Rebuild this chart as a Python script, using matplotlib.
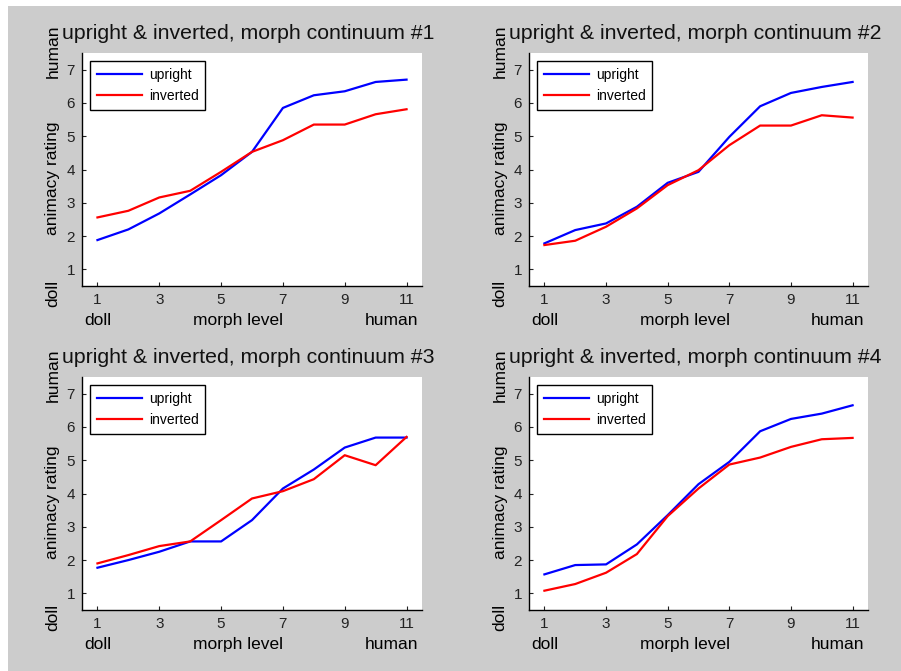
import numpy as np
import matplotlib.pyplot as plt
from matplotlib.patches import Rectangle

plt.rcParams['font.family'] = ['Liberation Sans', 'DejaVu Sans']

morph = [1, 2, 3, 4, 5, 6, 7, 8, 9, 10, 11]
titles = ["upright & inverted, morph continuum #1",
          "upright & inverted, morph continuum #2",
          "upright & inverted, morph continuum #3",
          "upright & inverted, morph continuum #4"]

upright1 = [1.88, 2.2, 2.68, 3.25, 3.83, 4.53, 5.85, 6.23, 6.35, 6.63, 6.7]
inverted1 = [2.56, 2.76, 3.16, 3.36, 3.93, 4.53, 4.88, 5.35, 5.35, 5.66, 5.81]
upright2 = [1.78, 2.18, 2.38, 2.88, 3.6, 3.93, 4.98, 5.9, 6.3, 6.48, 6.63]
inverted2 = [1.73, 1.86, 2.28, 2.83, 3.53, 3.98, 4.73, 5.32, 5.32, 5.63, 5.56]
upright3 = [1.77, 2.0, 2.25, 2.56, 2.56, 3.2, 4.15, 4.72, 5.38, 5.68, 5.68]
inverted3 = [1.9, 2.15, 2.42, 2.56, 3.2, 3.85, 4.07, 4.43, 5.15, 4.85, 5.7]
upright4 = [1.57, 1.85, 1.87, 2.47, 3.35, 4.28, 4.95, 5.87, 6.24, 6.4, 6.65]
inverted4 = [1.08, 1.28, 1.62, 2.18, 3.32, 4.15, 4.87, 5.08, 5.4, 5.63, 5.67]

uprights = [upright1, upright2, upright3, upright4]
inverteds = [inverted1, inverted2, inverted3, inverted4]

W, H = 901, 671
fig = plt.figure(figsize=(W / 100, H / 100), dpi=100)
fig.patch.set_facecolor('white')
fig.patches.append(Rectangle((8 / W, 0), 1, 1 - 6 / H, transform=fig.transFigure,
                             facecolor='#cccccc', edgecolor='none', zorder=-10))

# axes boxes in pixels: left, top, right, bottom
boxes = [(82, 53, 422, 286), (529, 53, 868, 286),
         (82, 377, 422, 610), (529, 377, 868, 610)]

for i in range(4):
    l, t, r, b = boxes[i]
    ax = fig.add_axes([l / W, 1 - b / H, (r - l) / W, (b - t) / H])
    ax.plot(morph, uprights[i], color='#0000ff', lw=1.6, label='upright')
    ax.plot(morph, inverteds[i], color='#ff0000', lw=1.6, label='inverted')
    ax.set_xlim(0.5, 11.5)
    ax.set_ylim(0.5, 7.5)
    ax.set_xticks([1, 3, 5, 7, 9, 11])
    ax.set_yticks([1, 2, 3, 4, 5, 6, 7])
    ax.tick_params(direction='in', length=3, labelsize=11, pad=5, colors='#222222')
    for s in ['top', 'right']:
        ax.spines[s].set_visible(False)
    for s in ['left', 'bottom']:
        ax.spines[s].set_linewidth(1.0)
    ax.set_title(titles[i], fontsize=15.3, pad=10, color='#111111', x=0.49)

    trx = ax.get_xaxis_transform()
    ax.text(1, -0.15, 'doll', transform=trx, ha='center', va='center', fontsize=12.5)
    ax.text(5.55, -0.15, 'morph level', transform=trx, ha='center', va='center', fontsize=12.5)
    ax.text(10.5, -0.15, 'human', transform=trx, ha='center', va='center', fontsize=12.5)

    xl = -29 / (r - l)
    ax.text(xl, 1.009, 'human', transform=ax.transAxes, rotation=90,
            ha='center', va='center', fontsize=12.5)
    ax.text(xl, 0.464, 'animacy rating', transform=ax.transAxes, rotation=90,
            ha='center', va='center', fontsize=12.5)
    ax.text(xl, -0.03, 'doll', transform=ax.transAxes, rotation=90,
            ha='center', va='center', fontsize=12.5)

    leg = ax.legend(loc='upper left', fontsize=10, fancybox=False, framealpha=1,
                    edgecolor='black', handlelength=3.2, handletextpad=0.5,
                    borderaxespad=0.6, labelspacing=0.5, borderpad=0.5)
    leg.get_frame().set_linewidth(1.0)

fig.savefig('out.png', dpi=100)
